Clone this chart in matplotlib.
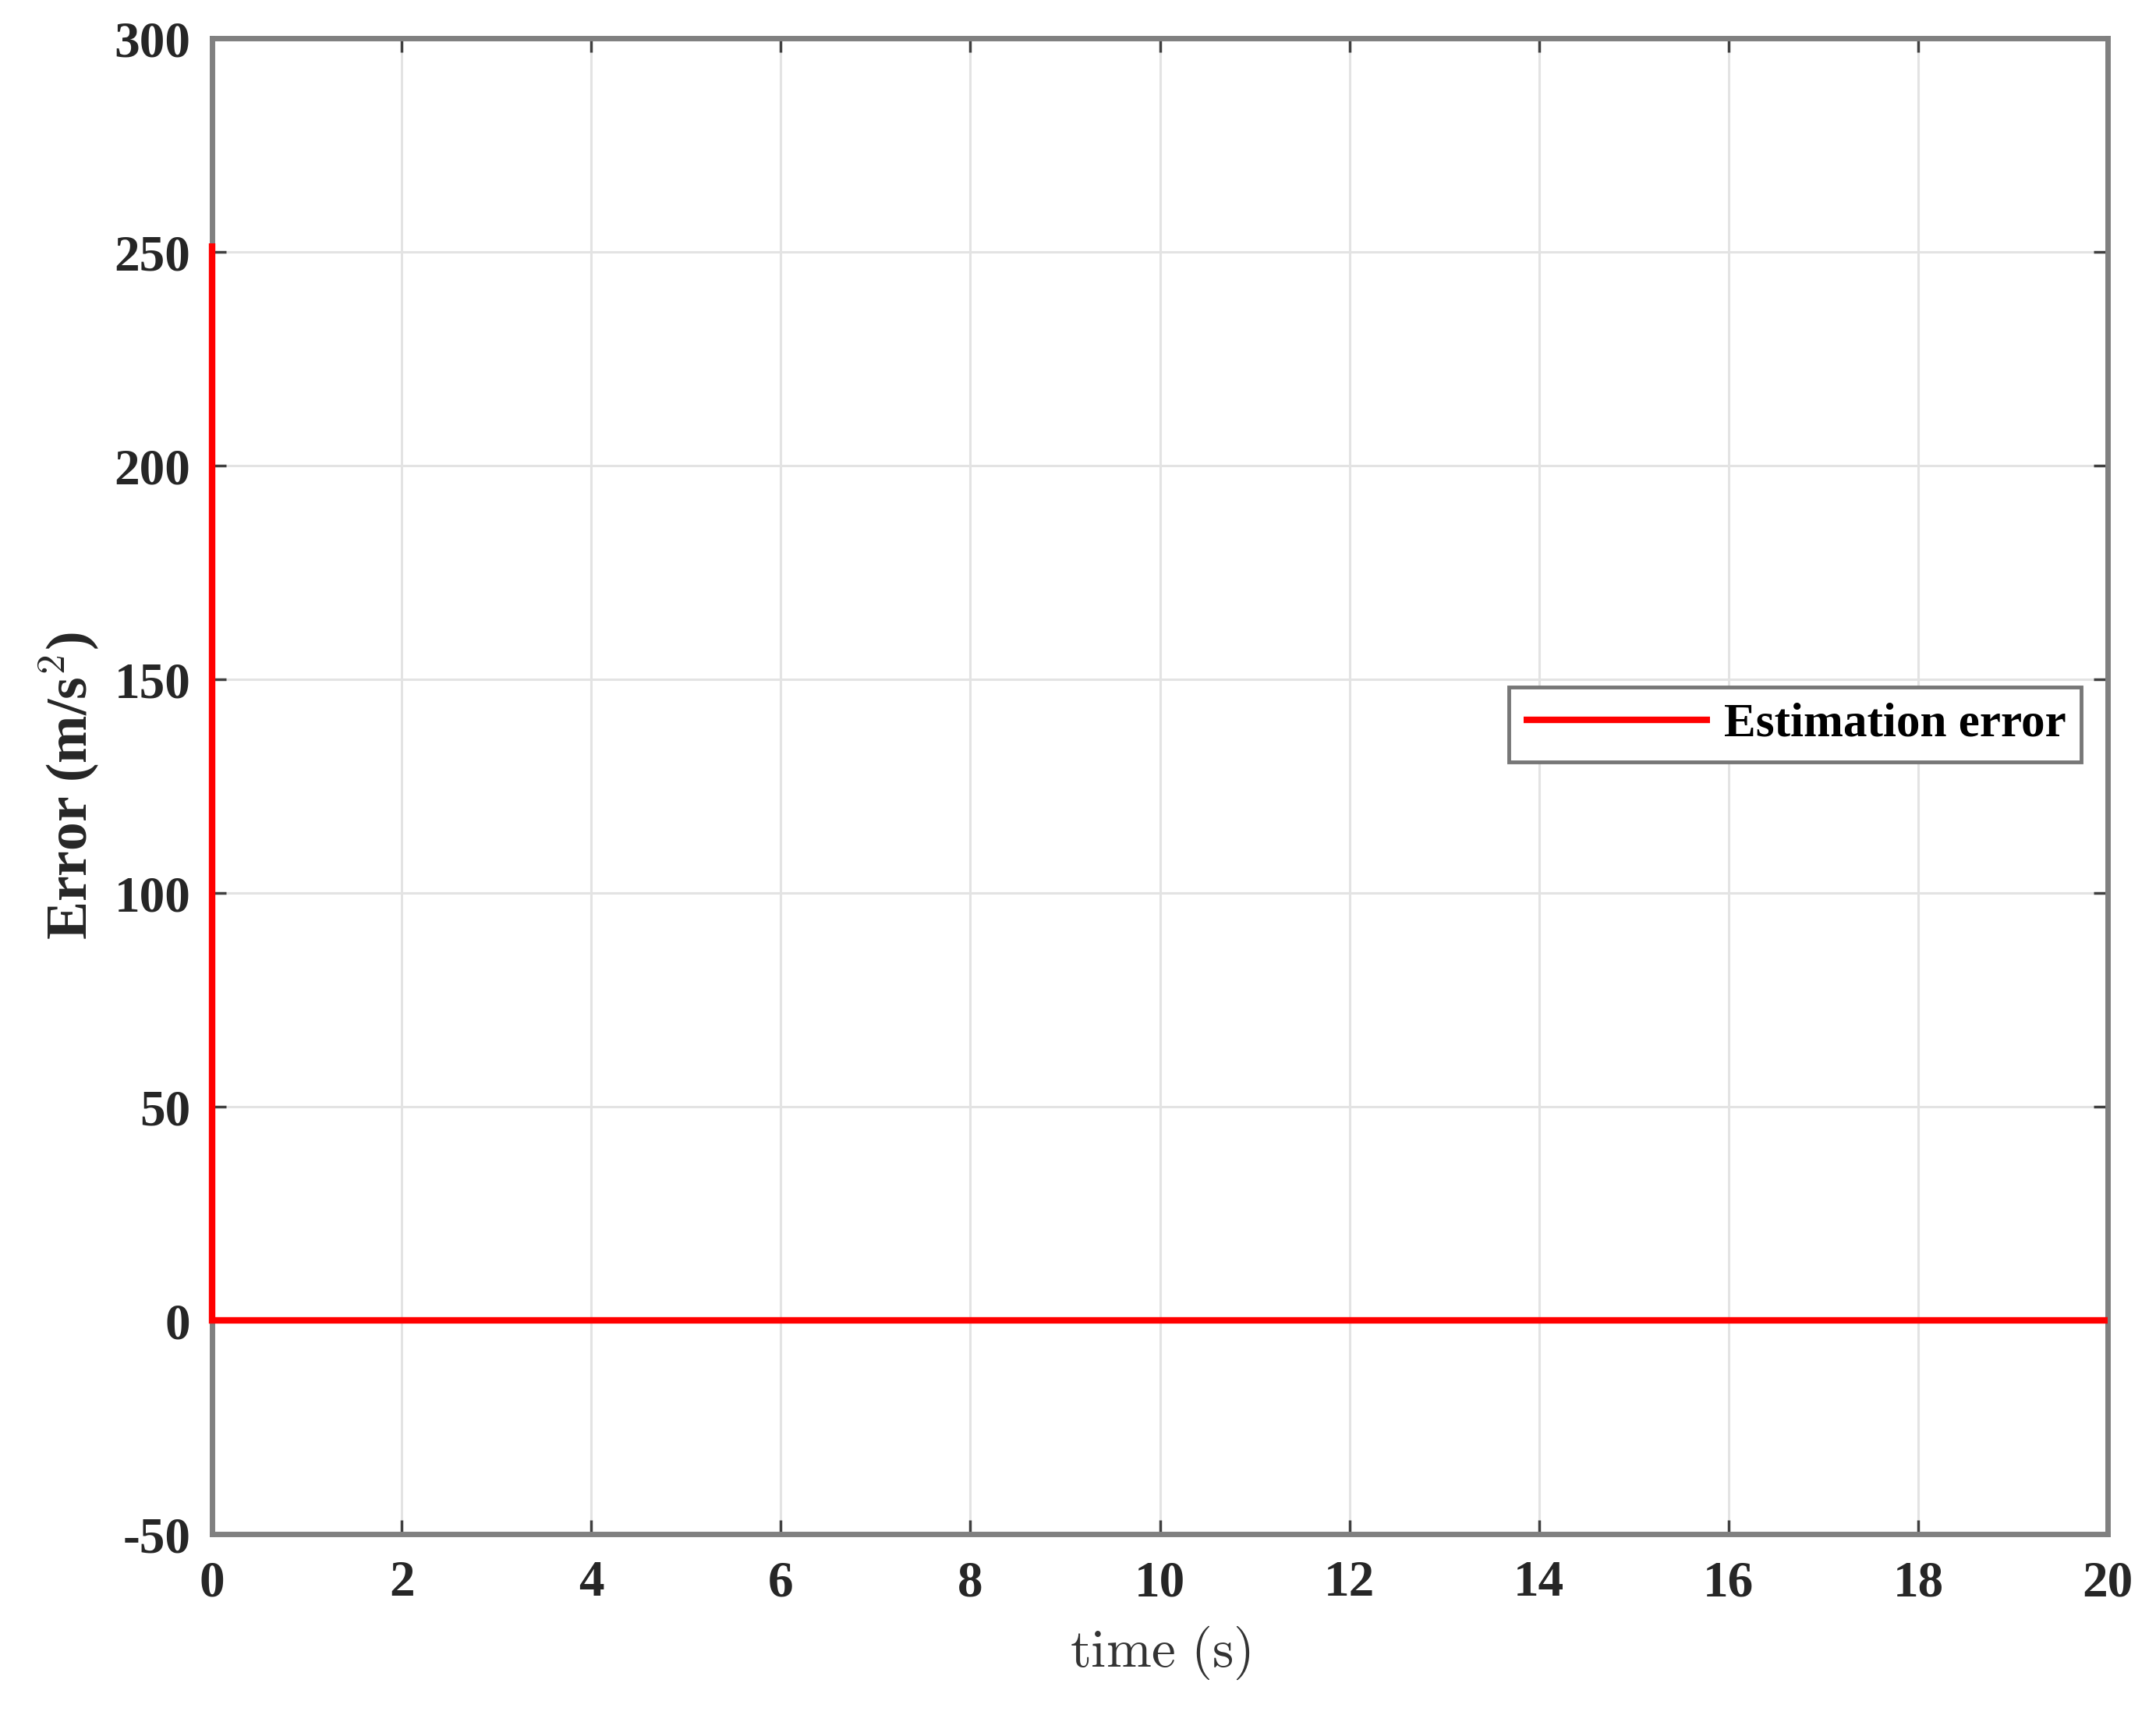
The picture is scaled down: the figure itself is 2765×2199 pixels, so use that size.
import matplotlib
matplotlib.use('Agg')
import matplotlib.pyplot as plt

# data
time_s = [0, 0, 20]
est_error = [252, 0, 0]
x_ticks = list(range(0, 21, 2))
y_ticks = list(range(-50, 301, 50))

plt.rcParams['mathtext.fontset'] = 'cm'
serif = 'Liberation Serif'

fig = plt.figure(figsize=(27.65, 21.99), dpi=100)
ax = fig.add_axes([0.0984, 0.1055, 0.8792, 0.8722])

# line sits on top of the left spine, like in the original
ax.plot(time_s, est_error, color='#ff0000', linewidth=6, label='Estimation error',
        solid_joinstyle='miter', solid_capstyle='butt', clip_on=False, zorder=5)

ax.set_xlim(0, 20)
ax.set_ylim(-50, 300)
ax.set_xticks(x_ticks)
ax.set_yticks(y_ticks)
ax.set_xticklabels([str(v) for v in x_ticks], family=serif, weight='bold',
                   fontsize=47, color='#262626')
ax.set_yticklabels([str(v) for v in y_ticks], family=serif, weight='bold',
                   fontsize=47, color='#262626')

ax.tick_params(direction='in', length=13, width=2.5, color='#404040',
               top=True, right=True, pad=20)
ax.tick_params(axis='x', pad=24)
ax.grid(True, color='#e3e3e3', linewidth=2.2)
ax.set_axisbelow(True)
for sp in ax.spines.values():
    sp.set_color('#808080')
    sp.set_linewidth(5)

ax.set_xlabel(r'$\mathrm{time\ (s)}$', fontsize=50, color='#333333', labelpad=16)
ax.set_ylabel(r'Error (m/s$^\mathbf{2}$)', family=serif, weight='bold',
              fontsize=53, color='#262626', labelpad=12)

leg = ax.legend(loc='upper left', bbox_to_anchor=(0.684, 0.566), borderaxespad=0,
                fancybox=False, edgecolor='#777777', framealpha=1,
                prop={'family': serif, 'weight': 'bold', 'size': 44},
                handlelength=3.9, handletextpad=0.3, borderpad=0.32)
leg.get_frame().set_linewidth(3.5)

fig.savefig('out.png', dpi=100, facecolor='white')
